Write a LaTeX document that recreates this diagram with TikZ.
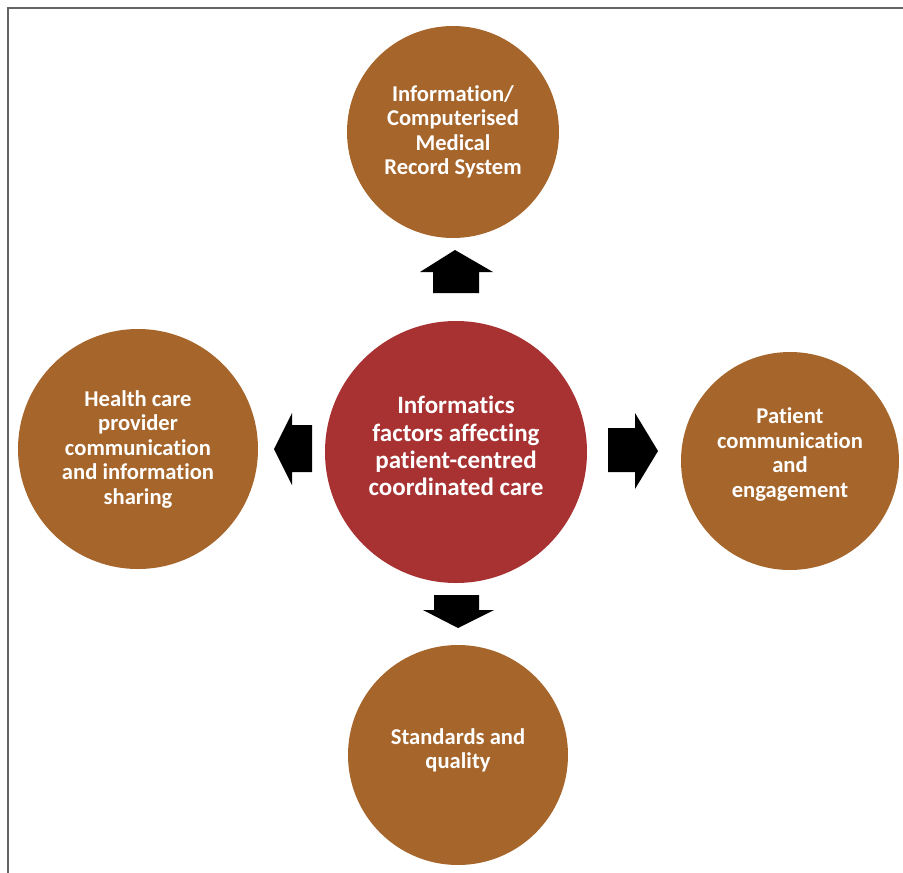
\documentclass[tikz,border=0pt]{standalone}
\usepackage{fontspec}
\setmainfont{Carlito}[Ligatures=NoCommon]
\definecolor{factorbrown}{RGB}{166,101,43}
\definecolor{centrered}{RGB}{168,49,50}
\definecolor{framegray}{RGB}{100,100,100}

\begin{document}
\begin{tikzpicture}[x=1pt,y=-1pt]
\tikzstyle{factor}=[circle,fill=factorbrown,text=white,inner sep=0pt,align=center,font=\bfseries\fontsize{22.6}{24.5}\selectfont];
\tikzstyle{core}=[circle,fill=centrered,text=white,inner sep=0pt,align=center,font=\bfseries\fontsize{25}{27.3}\selectfont];
\tikzstyle{blockarrow}=[fill=black];

\useasboundingbox (0,0) rectangle (903,873);
\draw [framegray,line width=2pt] (8,873) -- (8,8) -- (903,8);

\node [core,minimum size=262pt,text depth=12pt] (centre) at (456,452) {Informatics\\factors affecting\\patient-centred\\coordinated care};

\node [factor,minimum size=212pt] (info) at (453,132) {Information/\\Computerised\\Medical\\Record System};
\node [factor,minimum size=240pt] (provider) at (138,449) {Health care\\provider\\communication\\and information\\sharing};
\node [factor,minimum size=218pt,text depth=16.5pt] (patient) at (790,461) {Patient\\communication\\and\\engagement};
\node [factor,minimum size=220pt,text depth=12.5pt] (standards) at (458,755) {Standards and\\quality};

% block arrows
\fill [blockarrow] (433,293) -- (433,272) -- (420,272) -- (455,250) -- (493,272) -- (479,272) -- (479,293) -- cycle;
\fill [blockarrow] (312,425) -- (292,425) -- (292,413) -- (274,449) -- (292,485) -- (292,472) -- (312,472) -- cycle;
\fill [blockarrow] (608,428) -- (635,428) -- (635,413) -- (658,451) -- (635,489) -- (635,472) -- (608,472) -- cycle;
\fill [blockarrow] (434,595) -- (479,595) -- (479,610) -- (494,610) -- (458,628) -- (423,610) -- (434,610) -- cycle;
\end{tikzpicture}
\end{document}
